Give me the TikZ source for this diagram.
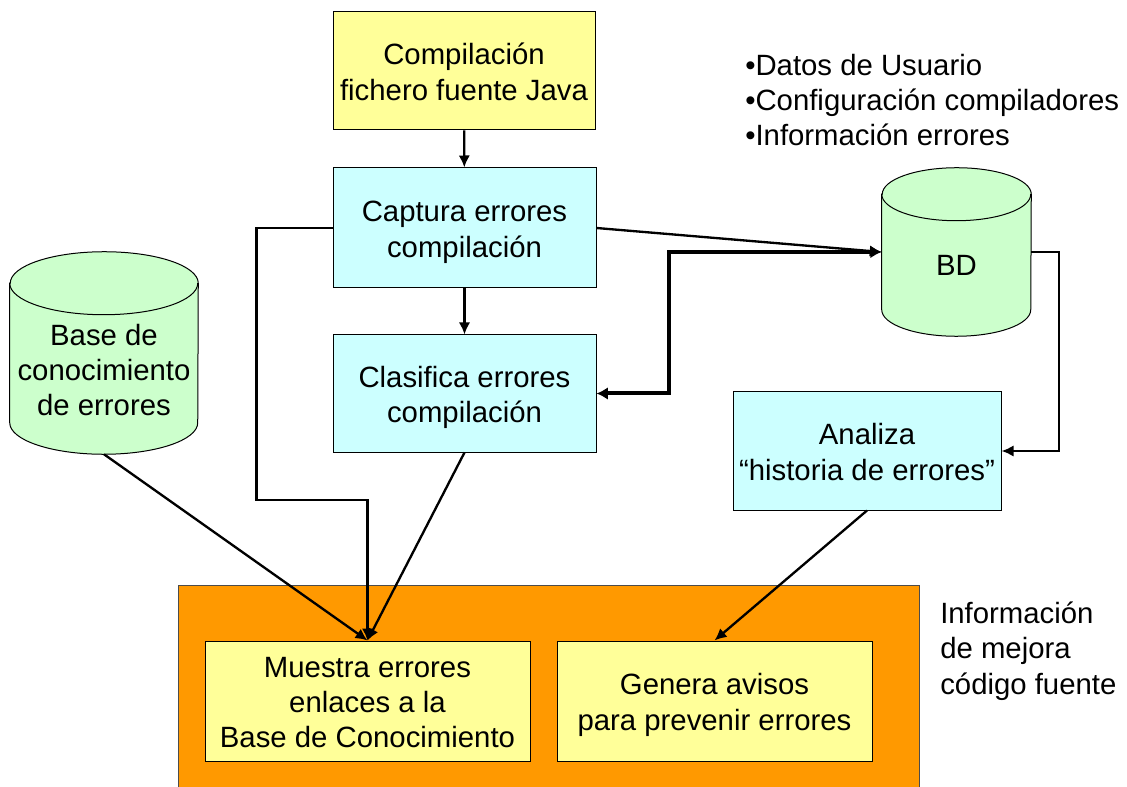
\documentclass[tikz,border=0pt]{standalone}
\usepackage{fontspec}
\setmainfont{Liberation Sans}
\usetikzlibrary{positioning,backgrounds,arrows.meta}

\definecolor{amarillo}{HTML}{FFFF99}
\definecolor{celeste}{HTML}{CCFFFF}
\definecolor{verde}{HTML}{CCFFCC}
\definecolor{naranja}{HTML}{FF9900}

% texto de caja, algo mas bajo
\newcommand{\lineas}[1]{\raisebox{-8.5pt}[0pt][0pt]{\begin{tabular}{@{}c@{}}#1\end{tabular}}}

% cilindro alrededor de un nodo: #1 nombre, #2 radio x, #3 radio y
\newcommand{\cilindro}[3]{%
	\draw[fill=verde,line width=0.75pt] ([yshift=-#3]#1.north west) -- ([yshift=#3]#1.south west)
		arc[start angle=180,end angle=360,x radius=#2,y radius=#3] -- ([yshift=-#3]#1.north east)
		arc[start angle=0,end angle=180,x radius=#2,y radius=#3] -- cycle;
	\draw[line width=0.75pt] ([yshift=-#3]#1.north west) arc[start angle=180,end angle=360,x radius=#2,y radius=#3];
}

\begin{document}
\begin{tikzpicture}[x=0.75pt,y=-0.75pt,
	caja/.style={rectangle,draw=black,inner sep=0pt,line width=0.75pt},
	cuerpo/.style={rectangle,inner sep=0pt},
	flecha/.style={-{Latex[length=9pt,width=8.5pt]},line width=1.75pt}]

				\tikzstyle{every node}=[font=\fontsize{22}{26.5}\selectfont]
				\useasboundingbox (0,0) rectangle (1127,787);

				% zona inferior
				\node[rectangle,draw=black!70,fill=naranja,anchor=north west,minimum width=555.75pt,minimum height=161.25pt] (mejora) at (178,585) {};
				\node[caja,fill=amarillo,minimum width=243.75pt,minimum height=90pt] (muestra) at (367.5,701) {\lineas{Muestra errores\\enlaces a la\\Base de Conocimiento}};
				\node[caja,fill=amarillo,minimum width=236.25pt,minimum height=90pt] (genera) at (714.5,701) {\lineas{Genera avisos\\para prevenir errores}};
				\node[anchor=west,align=left,inner sep=0pt] (mejoralabel) at (940,651) {Información\\de mejora\\código fuente};

				% cadena central
				\node[caja,fill=amarillo,minimum width=196.5pt,minimum height=88.5pt] (compilacion) at (464,71) {\lineas{Compilación\\fichero fuente Java}};
				\node[caja,fill=celeste,minimum width=197.25pt,minimum height=90pt] (captura) at (464.5,228) {\lineas{Captura errores\\compilación}};
				\node[caja,fill=celeste,minimum width=197.25pt,minimum height=87.75pt] (clasifica) at (464.5,393.5) {\lineas{Clasifica errores\\compilación}};
				\draw[flecha] (compilacion) -- (captura);
				\draw[flecha] (captura) -- (clasifica);

				% bases de datos
				\node[cuerpo,minimum width=111.75pt,minimum height=126pt] (bd) at (956.5,252) {};
				\cilindro{bd}{55.875pt}{19.875pt}
				\node (bdtext) at (956.5,265) {BD};
				\node[cuerpo,minimum width=141pt,minimum height=151.5pt] (base) at (104,353) {};
				\cilindro{base}{70.5pt}{23.625pt}
				\node[align=center] (basetext) at (104,370) {Base de\\conocimiento\\de errores};
				\node[anchor=west,align=left,inner sep=0pt] (datoslabel) at (745,100) {•Datos de Usuario\\•Configuración compiladores\\•Información errores};

				\node[caja,fill=celeste,minimum width=201pt,minimum height=88.5pt] (analiza) at (867,451) {\lineas{Analiza\\“historia de errores”}};

				% conexiones
				\draw[flecha] (captura.east) -- (bd.west);
				\draw[{Latex[length=8.5pt,width=9.5pt]}-{Latex[length=8.5pt,width=9.5pt]},line width=3pt] (clasifica.east) -- ++(72,0) |- (bd.west);
				\draw[flecha] (bd.east) -- ++(28,0) |- (analiza.east);
				\draw[flecha] (captura.west) -- ++(-76,0) -- ++(0,272) -| (muestra.north);
				\draw[flecha] (base.south) -- (muestra.north);
				\draw[flecha] (clasifica.south) -- (muestra.north);
				\draw[flecha] (analiza.south) -- (genera.north);

\end{tikzpicture}
\end{document}
